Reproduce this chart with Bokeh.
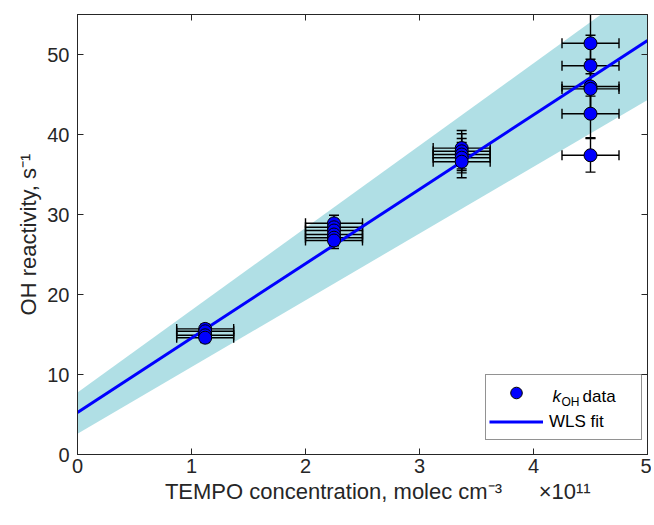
import numpy as np
from bokeh.plotting import figure
from bokeh.models import (ColumnDataSource, Legend, LegendItem, Label, LinearAxis,
                          FixedTicker, Range1d)
from bokeh.embed import file_html
from bokeh.resources import INLINE

# ---- data (TEMPO concentration in units of 1e11 molec cm^-3) ----
conc = [1.12, 1.12, 1.12, 1.12,
        2.25, 2.25, 2.25, 2.25, 2.25, 2.25,
        3.37, 3.37, 3.37, 3.37, 3.37,
        4.50, 4.50, 4.50, 4.50, 4.50, 4.50]
conc_err = [0.25, 0.25, 0.25, 0.25,
            0.25, 0.25, 0.25, 0.25, 0.25, 0.25,
            0.25, 0.25, 0.25, 0.25, 0.25,
            0.25, 0.25, 0.25, 0.25, 0.25, 0.25]
k_oh = [15.7, 15.4, 14.9, 14.6,
        28.9, 28.4, 28.0, 27.5, 27.1, 26.75,
        38.3, 37.9, 37.5, 37.1, 36.6,
        51.4, 48.6, 46.0, 45.7, 42.6, 37.4]
k_oh_err = [0.6, 0.6, 0.6, 0.6,
            1.0, 1.0, 1.0, 1.0, 1.0, 1.0,
            2.2, 2.2, 2.0, 1.9, 2.0,
            3.8, 3.8, 3.4, 3.4, 3.0, 2.1]
fit_x = [0.0, 5.0]
fit_y = [5.25, 51.75]
band_lo = [2.6, 44.3]
band_hi = [7.75, 59.2]
x_ticks = [0, 1, 2, 3, 4, 5]
y_ticks = [0, 10, 20, 30, 40, 50]

FONT = "Liberation Sans"
TXT = "#262626"
NB = "\u00a0"

c = np.array(conc); ce = np.array(conc_err)
k = np.array(k_oh); ke = np.array(k_oh_err)
src = ColumnDataSource(dict(x=c, y=k, ylo=k - ke, yhi=k + ke, xlo=c - ce, xhi=c + ce))

p = figure(frame_width=570, frame_height=440, x_range=Range1d(0, 5), y_range=Range1d(0, 55),
           output_backend="svg", toolbar_location=None,
           min_border_left=77, min_border_right=4, min_border_top=14, min_border_bottom=60)
p.xgrid.visible = False
p.ygrid.visible = False
p.outline_line_color = TXT
p.outline_line_width = 1

p.xaxis.ticker = FixedTicker(ticks=x_ticks)
p.yaxis.ticker = FixedTicker(ticks=y_ticks)
for ax in (p.xaxis[0], p.yaxis[0]):
    ax.major_tick_in = 6
    ax.major_tick_out = 0
    ax.minor_tick_line_color = None
    ax.axis_line_color = TXT
    ax.major_tick_line_color = TXT
    ax.major_label_text_font = FONT
    ax.major_label_text_font_size = "20px"
    ax.major_label_text_color = TXT
    ax.axis_label_text_font = FONT
    ax.axis_label_text_font_size = "22px"
    ax.axis_label_text_font_style = "normal"
    ax.axis_label_text_color = TXT
p.xaxis.major_label_standoff = 4
p.yaxis.major_label_standoff = 8
p.xaxis.axis_label = (NB * 5 + "TEMPO concentration, molec cm\u207b\u00b3"
                      + NB * 6 + "\u00d710\u00b9\u00b9")
p.yaxis.axis_label = "OH reactivity, s\u207b\u00b9"
p.xaxis.axis_label_standoff = 3
p.yaxis.axis_label_standoff = 3

for loc, tk in (("right", y_ticks), ("above", x_ticks)):
    ax = LinearAxis(ticker=FixedTicker(ticks=tk), major_tick_in=6, major_tick_out=0,
                    minor_tick_line_color=None, axis_line_color=TXT,
                    major_tick_line_color=TXT,
                    major_label_overrides={t: "" for t in tk},
                    major_label_standoff=0)
    p.add_layout(ax, loc)

# confidence band
p.varea(x=fit_x, y1=band_lo, y2=band_hi, fill_color="#B0DFE5")

# error bars
EB = dict(line_color="black", line_width=1.4)
p.segment(x0="x", y0="ylo", x1="x", y1="yhi", source=src, **EB)
p.segment(x0="xlo", y0="y", x1="xhi", y1="y", source=src, **EB)
p.scatter(x="x", y="ylo", source=src, marker="dash", size=10, **EB)
p.scatter(x="x", y="yhi", source=src, marker="dash", size=10, **EB)
p.scatter(x="xlo", y="y", source=src, marker="dash", size=10, angle=np.pi / 2, **EB)
p.scatter(x="xhi", y="y", source=src, marker="dash", size=10, angle=np.pi / 2, **EB)

# fit line
line_r = p.line(fit_x, fit_y, line_color="#0000FF", line_width=3)

# data markers
pts_r = p.scatter(x="x", y="y", source=src, size=13, fill_color="#0000FF",
                  line_color="black", line_width=1)

legend = Legend(items=[LegendItem(label=" ", renderers=[pts_r]),
                       LegendItem(label="WLS fit", renderers=[line_r])],
                location=(408, 14), margin=0, padding=3, spacing=-2,
                glyph_width=54, glyph_height=29, label_height=29, label_width=89,
                label_standoff=6, label_text_font=FONT, label_text_font_size="17px",
                label_text_color="black", border_line_color=TXT, border_line_width=1,
                background_fill_alpha=0)
p.add_layout(legend)

def lab(text, x, y, size, **kw):
    color = kw.pop("color", TXT)
    p.add_layout(Label(text=text, x=x, y=y, x_units="screen", y_units="screen",
                       text_baseline="alphabetic",
                       text_font=FONT, text_font_size=size, text_color=color, **kw))

# legend text k_OH data
lab("k", 475, 58, "17px", text_font_style="italic", color="black")
lab("OH", 484, 53, "12px", color="black")
lab("data", 505, 58, "17px", color="black")

open("out.html", "w").write(file_html(p, INLINE))
